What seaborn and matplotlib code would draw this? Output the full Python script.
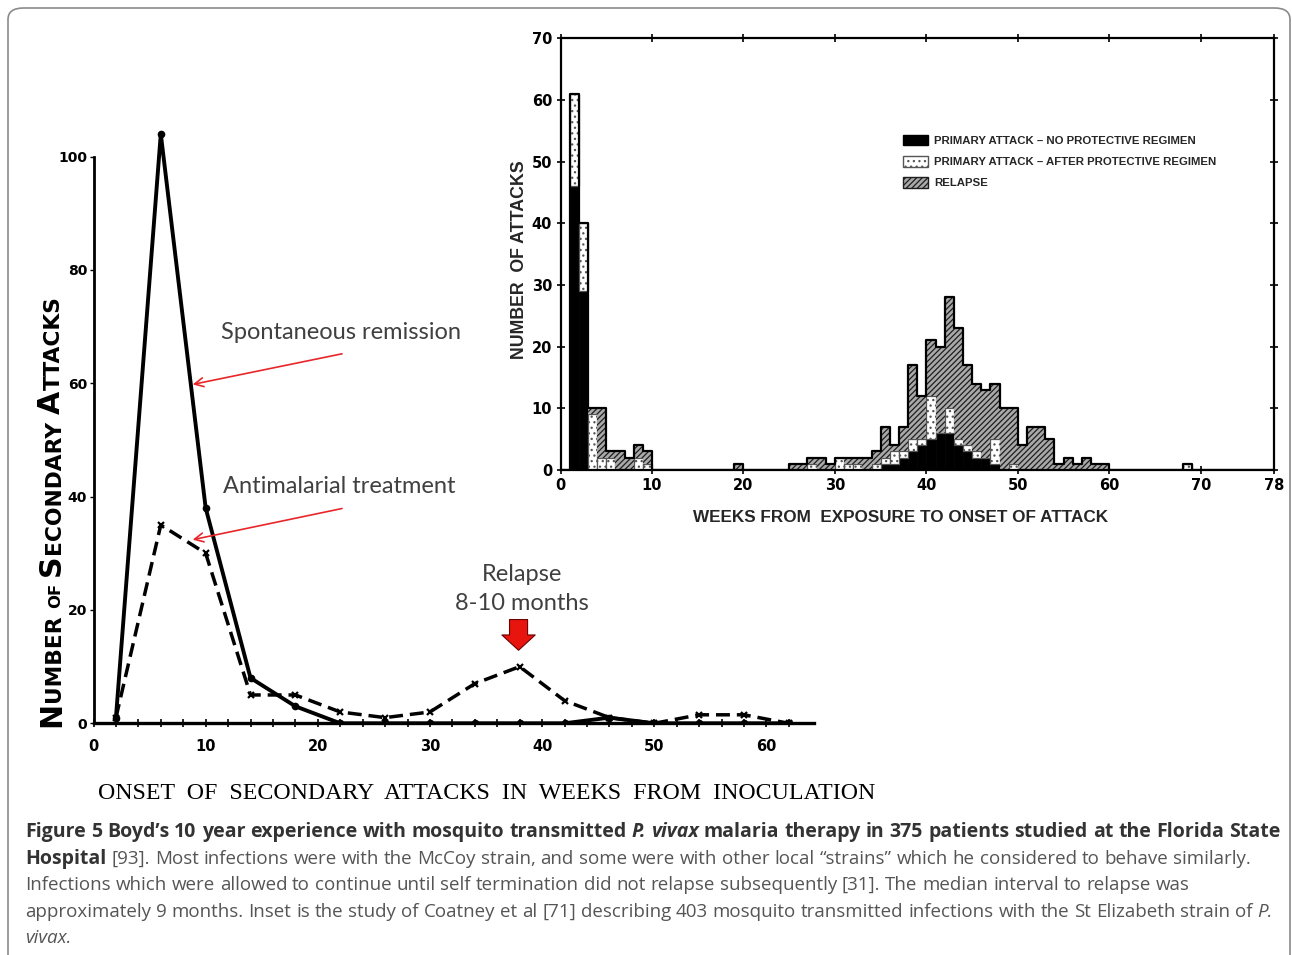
import numpy as np
import pandas as pd
import matplotlib.pyplot as plt
import seaborn as sns
from matplotlib.patches import Patch, FancyBboxPatch
from matplotlib.colors import to_rgba

# ---- main chart (Boyd): secondary attacks, points every 4 weeks ----
weeks = [2, 6, 10, 14, 18, 22, 26, 30, 34, 38, 42, 46, 50, 54, 58, 62]
spontaneous = [1, 104, 38, 8, 3, 0, 0, 0, 0, 0, 0, 1, 0, 0, 0, 0]
treated = [1, 35, 30, 5, 5, 2, 1, 2, 7, 10, 4, 1, 0, 1.5, 1.5, 0]
main_xticks = [0, 10, 20, 30, 40, 50, 60]
main_yticks = [0, 20, 40, 60, 80, 100]

# ---- inset (Coatney et al): weekly histogram, bin start week ----
hist_weeks = [1, 2, 3, 4, 5, 6, 7, 8, 9, 19, 25, 26, 27, 28, 29, 30, 31, 32,
              33, 34, 35, 36, 37, 38, 39, 40, 41, 42, 43, 44, 45, 46, 47, 48,
              49, 50, 51, 52, 53, 54, 55, 56, 57, 58, 59, 68]
no_protective = [46, 29, 0, 0, 0, 0, 0, 0, 0, 0, 0, 0, 0, 0, 0, 0, 0, 0,
                 0, 0, 1, 1, 2, 3, 4, 5, 6, 6, 4, 3, 2, 2, 1, 0,
                 0, 0, 0, 0, 0, 0, 0, 0, 0, 0, 0, 0]
after_protective = [15, 11, 9, 2, 2, 0, 0, 2, 1, 0, 0, 0, 1, 0, 0, 2, 1, 1,
                    0, 1, 1, 2, 1, 2, 1, 7, 0, 4, 1, 1, 1, 0, 4, 0,
                    1, 0, 0, 0, 0, 0, 0, 0, 0, 0, 0, 1]
relapse = [0, 0, 1, 8, 1, 3, 2, 2, 2, 1, 1, 1, 1, 2, 1, 0, 1, 1,
           2, 2, 5, 1, 4, 12, 7, 9, 14, 18, 18, 13, 11, 11, 9, 10,
           9, 4, 7, 7, 5, 1, 2, 1, 2, 1, 1, 0]
inset_xticks = [0, 10, 20, 30, 40, 50, 60, 70, 78]
inset_yticks = [0, 10, 20, 30, 40, 50, 60, 70]

LBL_NO = "PRIMARY ATTACK – NO PROTECTIVE REGIMEN"
LBL_AFTER = "PRIMARY ATTACK – AFTER PROTECTIVE REGIMEN"
LBL_RELAPSE = "RELAPSE"

caption_lines = [
    [("Figure 5 Boyd’s 10 year experience with mosquito transmitted", "b"),
     ("P. vivax", "bi"),
     ("malaria therapy in 375 patients studied at the Florida State", "b")],
    [("Hospital", "b"),
     ("[93]. Most infections were with the McCoy strain, and some were with "
      "other local “strains” which he considered to behave similarly.", "n")],
    [("Infections which were allowed to continue until self termination did "
      "not relapse subsequently [31]. The median interval to relapse was", "n")],
    [("approximately 9 months. Inset is the study of Coatney et al [71] "
      "describing 403 mosquito transmitted infections with the St Elizabeth "
      "strain of", "n"), ("P.", "i")],
    [("vivax.", "i")],
]

sns.set_style("white")
plt.rcParams["hatch.linewidth"] = 0.9

W, H = 1292, 955
fig = plt.figure(figsize=(W / 100, H / 100), dpi=100)
fig.patch.set_facecolor("white")
renderer = fig.canvas.get_renderer()

# outer frame of the figure panel
frame = FancyBboxPatch((8 / W, -0.05), 1282 / W, 1.05 - 8 / H,
                       boxstyle="round,pad=0,rounding_size=0.012",
                       transform=fig.transFigure, fill=False,
                       edgecolor="#8a8a8a", linewidth=1.2)
fig.patches.append(frame)

# ================= main chart =================
ax = fig.add_axes([93.5 / W, (H - 723.3) / H, 720 / W, 600.7 / H])
sns.lineplot(x=weeks, y=spontaneous, ax=ax, color="black", linewidth=2.8,
             marker="o", markersize=4.5, markeredgecolor="black",
             markeredgewidth=1)
sns.lineplot(x=weeks, y=treated, ax=ax, color="black", linewidth=2.5,
             linestyle=(0, (4, 2)), marker="x", markersize=5,
             markeredgecolor="black", markeredgewidth=1.6)
ax.set_xlim(0, 64.2)
ax.set_ylim(0, 106)
ax.set_xticks(main_xticks)
ax.set_xticks(np.arange(2, 64, 2), minor=True)
ax.set_yticks(main_yticks)
for s in ["top", "right"]:
    ax.spines[s].set_visible(False)
ax.spines["left"].set_bounds(0, 100)
ax.spines["left"].set_linewidth(2)
ax.spines["bottom"].set_linewidth(2.4)
ax.spines["left"].set_color("black")
ax.spines["bottom"].set_color("black")
ax.tick_params(axis="x", which="both", direction="inout", length=6, width=1.2,
               bottom=True, labelsize=10.5, pad=8, colors="black")
ax.tick_params(axis="y", direction="out", length=3, width=1, left=True,
               labelsize=10, pad=1.5, colors="black")
plt.setp(ax.get_xticklabels() + ax.get_yticklabels(), fontweight="bold")
ax.set_xlabel("")
ax.set_ylabel("")
ax.set_facecolor("none")

note_kw = dict(fontsize=17, color="#404040", family="Lato",
               ha="center", va="center")
ax.text(22.1, 69.0, "Spontaneous remission", **note_kw)
ax.text(21.9, 41.7, "Antimalarial treatment", **note_kw)
ax.text(38.2, 26.2, "Relapse", **note_kw)
ax.text(38.2, 21.1, "8-10 months", **note_kw)
red_arrow = dict(arrowstyle="->", color="#e8262a", lw=1.2, mutation_scale=16)
ax.annotate("", xy=(8.6, 59.7), xytext=(22.4, 65.3), arrowprops=red_arrow)
ax.annotate("", xy=(8.6, 32.3), xytext=(22.4, 38.0), arrowprops=red_arrow)
ax.annotate("", xy=(37.9, 12.4), xytext=(37.9, 18.8),
            arrowprops=dict(arrowstyle="simple,head_width=2.4,head_length=1.1,tail_width=1.3",
                            fc="#e8150f", ec="#6a0000", lw=0.8, mutation_scale=10))


# small-caps style y label, chained piece by piece going upward
def small_caps_label(scale):
    sizes = {"big": 22 * scale, "small": 16 * scale, "tiny": 12 * scale}
    words = [[("N", "big"), ("UMBER", "small")], [("OF", "tiny")],
             [("S", "big"), ("ECONDARY", "small")],
             [("A", "big"), ("TTACKS", "small")]]
    y = H - 727
    made = []
    for i, word in enumerate(words):
        for txt, key in word:
            t = fig.text(60 / W, y / H, txt, rotation=90, rotation_mode="anchor",
                         ha="left", va="baseline", fontsize=sizes[key],
                         fontweight="bold", color="black", family="DejaVu Sans")
            y += t.get_window_extent(renderer).height
            made.append(t)
        if i < len(words) - 1:
            y += 0.3 * sizes["small"] * 100 / 72
    return made, y - (H - 727)


parts, span = small_caps_label(1.0)
for t in parts:
    t.remove()
small_caps_label(430 / span)

# x label of the main chart, fitted to its width in the picture
xl = fig.text(487 / W, 1 - 793 / H, "ONSET  OF  SECONDARY  ATTACKS  IN  WEEKS  FROM  INOCULATION",
              ha="center", va="center", fontsize=16, family="Liberation Serif",
              color="black")
xl.set_fontsize(16 * 777 / xl.get_window_extent(renderer).width)

# ================= inset histogram =================
axi = fig.add_axes([560.5 / W, (H - 470) / H, 713.5 / W, 431.7 / H])
axi.set_facecolor("white")

rows = []
for label, counts in [(LBL_NO, no_protective), (LBL_AFTER, after_protective),
                      (LBL_RELAPSE, relapse)]:
    for w, c in zip(hist_weeks, counts):
        rows.append({"week": w + 0.5, "count": c, "kind": label})
hist_df = pd.DataFrame(rows)

RELAPSE_FACE = "#a9a9a9"
palette = {LBL_NO: "#000000", LBL_AFTER: "#ffffff", LBL_RELAPSE: RELAPSE_FACE}
sns.histplot(data=hist_df, x="week", weights="count", hue="kind",
             hue_order=[LBL_RELAPSE, LBL_AFTER, LBL_NO], multiple="stack",
             binwidth=1, binrange=(0, 78), palette=palette, alpha=1,
             legend=False, ax=axi)

for cont in axi.containers:
    fc = cont.patches[0].get_facecolor()
    for p in cont.patches:
        if np.allclose(fc, to_rgba(palette[LBL_RELAPSE])):
            p.set_facecolor(RELAPSE_FACE)
            p.set_edgecolor("#1e1e1e")
            p.set_hatch("//////")
            p.set_linewidth(0)
        elif np.allclose(fc, to_rgba(palette[LBL_AFTER])):
            p.set_facecolor("white")
            p.set_edgecolor("#555555")
            p.set_hatch("...")
            p.set_linewidth(0.9)
        else:
            p.set_facecolor("black")
            p.set_edgecolor("black")
            p.set_linewidth(0.5)

# outline of the total per week
totals = [a + b + c for a, b, c in zip(no_protective, after_protective, relapse)]
sns.histplot(x=[w + 0.5 for w in hist_weeks], weights=totals, binwidth=1,
             binrange=(0, 78), element="step", fill=False, color="black",
             linewidth=1.6, ax=axi)

axi.set_xlim(0, 78)
axi.set_ylim(0, 70)
axi.set_xticks(inset_xticks)
axi.set_yticks(inset_yticks)
axi.set_xlabel("")
axi.set_ylabel("")
for s in axi.spines.values():
    s.set_visible(True)
    s.set_color("black")
    s.set_linewidth(1.6)
axi.tick_params(axis="both", which="both", direction="inout", length=6,
                width=1.2, top=True, right=True, bottom=True, left=True,
                labeltop=False, labelright=False, labelsize=10.5, pad=3,
                colors="black")
plt.setp(axi.get_xticklabels() + axi.get_yticklabels(), fontweight="bold",
         family="DejaVu Sans")

fig.text(519 / W, 1 - 260 / H, "NUMBER  OF ATTACKS", rotation=90, ha="center",
         va="center", fontsize=12.8, fontweight="bold", family="Liberation Sans")
fig.text(901 / W, 1 - 517 / H, "WEEKS FROM  EXPOSURE TO ONSET OF ATTACK",
         ha="center", va="center", fontsize=12.3, fontweight="bold",
         family="Liberation Sans")

handles = [Patch(facecolor="black", edgecolor="black"),
           Patch(facecolor="white", edgecolor="#555555", hatch="..."),
           Patch(facecolor=RELAPSE_FACE, edgecolor="#1e1e1e", hatch="//////")]
axi.legend(handles, [LBL_NO, LBL_AFTER, LBL_RELAPSE], loc="upper left",
           bbox_to_anchor=((898 - 560.5) / 713.5, (470 - 130) / 431.7),
           frameon=False, handlelength=2.2, handleheight=1.1,
           labelspacing=0.86, handletextpad=0.6, borderaxespad=0,
           prop={"family": "Liberation Sans", "weight": "bold", "size": 8.2})

# ================= caption =================
styles = {"b": ("bold", "normal", "#333333"),
          "bi": ("bold", "italic", "#333333"),
          "n": ("normal", "normal", "#555555"),
          "i": ("normal", "italic", "#555555")}
CAP_FONT = "Open Sans"


def caption_words(line):
    out = []
    for text, key in line:
        for word in text.split(" "):
            out.append((word, key))
    return out


def place_line(words, x0, baseline, sizes):
    x = x0
    made = []
    gap = 0
    for word, key in words:
        weight, style, color = styles[key]
        size = sizes[weight]
        gap = 0.26 * size * 100 / 72
        t = fig.text(x / W, 1 - baseline / H, word, fontsize=size,
                     fontweight=weight, fontstyle=style, color=color,
                     family=CAP_FONT, ha="left", va="baseline")
        x += t.get_window_extent(renderer).width + gap
        made.append(t)
    return made, x - x0 - gap


# fit bold text to line 1 and regular text to line 3 of the picture
trial = {"bold": 12, "normal": 12}
probe, width_bold = place_line(caption_words(caption_lines[0]), 25, 837, trial)
for t in probe:
    t.remove()
probe, width_norm = place_line(caption_words(caption_lines[2]), 25, 890, trial)
for t in probe:
    t.remove()
cap_sizes = {"bold": 12 * 1253 / width_bold, "normal": 12 * 1163 / width_norm}
for i, line in enumerate(caption_lines):
    place_line(caption_words(line), 25, 837 + 26.5 * i, cap_sizes)

fig.savefig("out.png", dpi=100, facecolor="white")
